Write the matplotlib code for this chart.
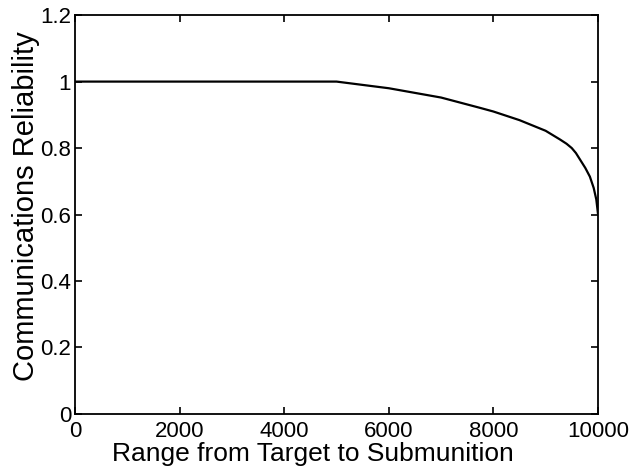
import numpy as np
import matplotlib.pyplot as plt

# Range (x) and reliability (y)
range_m = [0, 5000, 6000, 7000, 7744, 8000, 8500, 9000, 9273, 9400, 9500, 9580, 9656, 9760, 9847, 9920, 9970, 10000]
reliability = [1.0, 1.0, 0.98, 0.952, 0.921, 0.91, 0.884, 0.852, 0.826, 0.813, 0.80, 0.785, 0.766, 0.74, 0.714, 0.68, 0.645, 0.605]

plt.rcParams['font.family'] = ['Liberation Sans', 'DejaVu Sans']

fig = plt.figure(figsize=(6.32, 4.73), dpi=100)
ax = fig.add_axes([0.119, 0.125, 0.827, 0.843])

ax.plot(range_m, reliability, color='black', linewidth=1.6)

ax.set_xlim(0, 10000)
ax.set_ylim(0, 1.2)
ax.set_xticks([0, 2000, 4000, 6000, 8000, 10000])
ax.set_yticks([0, 0.2, 0.4, 0.6, 0.8, 1.0, 1.2])
ax.set_yticklabels(['0', '0.2', '0.4', '0.6', '0.8', '1', '1.2'])

ax.tick_params(direction='in', top=True, right=True, labelsize=16, length=5, width=1.2)
ax.tick_params(axis='x', pad=5)
ax.tick_params(axis='y', pad=3)
for s in ax.spines.values():
    s.set_linewidth(1.3)

ax.set_xlabel('Range from Target to Submunition', fontsize=19, labelpad=0, x=0.455)
ax.set_ylabel('Communications Reliability', fontsize=21, labelpad=0, y=0.52)

fig.savefig('out.png', dpi=100)
